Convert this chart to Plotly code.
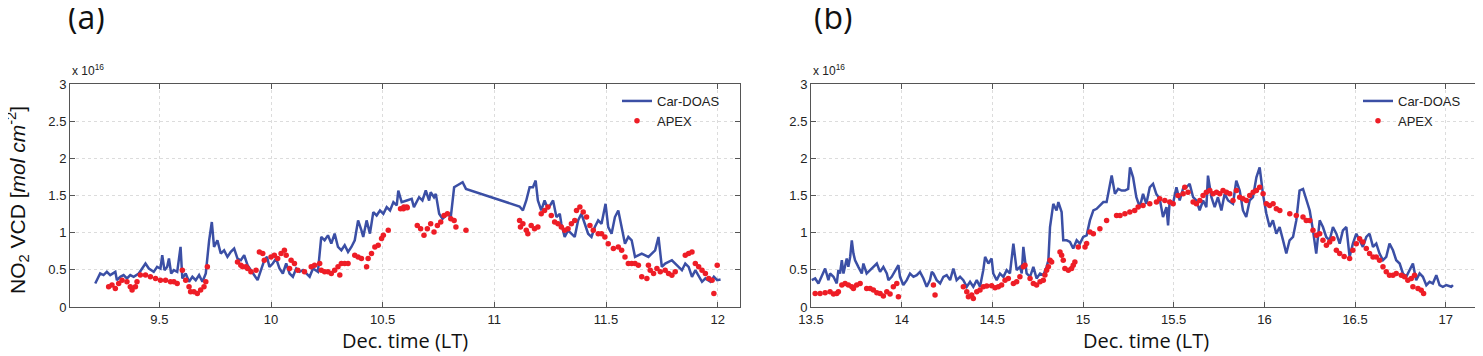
import plotly.graph_objects as go

# ---- panel (a) : Car-DOAS line (units of 1e16 molec/cm2) ----
time_a_doas = [9.213, 9.223, 9.235, 9.25, 9.265, 9.28, 9.295, 9.303, 9.31, 9.325, 9.34, 9.355, 9.37,
               9.385, 9.408, 9.423, 9.438, 9.453, 9.475, 9.49, 9.505, 9.513, 9.523, 9.535, 9.543,
               9.553, 9.565, 9.58, 9.595, 9.603, 9.618, 9.633, 9.648, 9.663, 9.678, 9.693, 9.708,
               9.723, 9.735, 9.745, 9.76, 9.775, 9.79, 9.805, 9.82, 9.835, 9.85, 9.865, 9.88, 9.895,
               9.91, 9.925, 9.94, 9.955, 9.97, 9.982, 9.993, 10.008, 10.023, 10.038, 10.053, 10.068,
               10.083, 10.098, 10.113, 10.128, 10.143, 10.158, 10.173, 10.188, 10.21, 10.225, 10.24,
               10.255, 10.27, 10.285, 10.3, 10.315, 10.33, 10.345, 10.36, 10.375, 10.39, 10.405,
               10.413, 10.428, 10.443, 10.458, 10.473, 10.488, 10.503, 10.518, 10.533, 10.548,
               10.563, 10.57, 10.585, 10.608, 10.63, 10.64, 10.663, 10.678, 10.693, 10.708, 10.715,
               10.73, 10.738, 10.753, 10.768, 10.79, 10.805, 10.82, 10.843, 10.858, 10.873, 11.113,
               11.128, 11.143, 11.158, 11.173, 11.185, 11.195, 11.21, 11.225, 11.24, 11.263, 11.278,
               11.293, 11.3, 11.315, 11.33, 11.345, 11.36, 11.375, 11.39, 11.405, 11.42, 11.435,
               11.45, 11.465, 11.48, 11.498, 11.51, 11.525, 11.54, 11.555, 11.57, 11.585, 11.6,
               11.615, 11.63, 11.66, 11.69, 11.72, 11.735, 11.75, 11.765, 11.795, 11.825, 11.84,
               11.855, 11.87, 11.885, 11.9, 11.93, 11.945, 11.968, 11.983, 11.998, 12.013]
vcd_a_doas = [0.317, 0.384, 0.451, 0.429, 0.473, 0.429, 0.451, 0.473, 0.361, 0.406, 0.429, 0.384, 0.429,
              0.406, 0.451, 0.518, 0.585, 0.518, 0.473, 0.54, 0.518, 0.696, 0.496, 0.54, 0.652,
              0.451, 0.496, 0.473, 0.808, 0.384, 0.451, 0.339, 0.406, 0.361, 0.429, 0.339, 0.451,
              0.897, 1.143, 0.808, 0.897, 0.719, 0.763, 0.674, 0.741, 0.786, 0.652, 0.629, 0.696, 0.562,
              0.496, 0.429, 0.361, 0.496, 0.629, 0.674, 0.54, 0.585, 0.652, 0.518, 0.451, 0.585,
              0.451, 0.406, 0.518, 0.473, 0.496, 0.451, 0.406, 0.518, 0.473, 0.942, 0.897,
              0.964, 0.853, 0.987, 0.808, 0.763, 0.83, 0.741, 0.808, 0.897, 1.165, 1.031,
              0.942, 1.165, 0.987, 1.277, 1.232, 1.299, 1.254, 1.344, 1.299, 1.411,
              1.366, 1.567, 1.411, 1.433, 1.455, 1.344, 1.477, 1.433, 1.567, 1.433, 1.544,
              1.477, 1.522, 1.254, 1.187, 1.254, 1.21, 1.611, 1.656, 1.678, 1.589, 1.352,
              1.299, 1.433, 1.611, 1.611, 1.701, 1.433, 1.299, 1.433, 1.321, 1.433, 1.21,
              1.254, 1.12, 0.942, 1.031, 0.986, 0.942, 1.165, 1.254, 1.12, 0.986, 0.942,
              1.076, 1.165, 1.12, 1.388, 1.076, 0.986, 1.21, 1.299, 1.076, 0.852, 0.942,
              0.897, 0.674, 0.719, 0.674, 0.763, 0.942, 0.54, 0.585, 0.629, 0.54, 0.495,
              0.585, 0.54, 0.406, 0.495, 0.339, 0.384, 0.339, 0.406, 0.361, 0.37]

# ---- panel (a) : APEX points ----
time_a_apex = [9.273, 9.288, 9.303, 9.318, 9.333, 9.355, 9.37, 9.378, 9.393, 9.4, 9.415, 9.438, 9.46,
               9.483, 9.505, 9.528, 9.55, 9.565, 9.58, 9.603, 9.618, 9.633, 9.64, 9.655, 9.67, 9.685,
               9.7, 9.708, 9.715, 9.85, 9.865, 9.873, 9.888, 9.895, 9.91, 9.933, 9.948, 9.963, 9.97,
               10.0, 10.015, 10.03, 10.045, 10.06, 10.068, 10.083, 10.09, 10.105, 10.12, 10.15,
               10.18, 10.195, 10.218, 10.225, 10.24, 10.255, 10.27, 10.285, 10.3, 10.308, 10.315,
               10.33, 10.345, 10.375, 10.39, 10.405, 10.428, 10.435, 10.45, 10.465, 10.48, 10.495,
               10.503, 10.525, 10.58, 10.593, 10.595, 10.608, 10.61, 10.655, 10.67, 10.685, 10.7,
               10.715, 10.73, 10.745, 10.76, 10.775, 10.79, 10.805, 10.82, 10.828, 10.873, 11.113,
               11.117, 11.128, 11.143, 11.15, 11.165, 11.18, 11.195, 11.21, 11.225, 11.24, 11.255,
               11.27, 11.285, 11.3, 11.315, 11.33, 11.345, 11.36, 11.368, 11.383, 11.398, 11.413,
               11.428, 11.443, 11.465, 11.48, 11.495, 11.51, 11.533, 11.555, 11.57, 11.585, 11.6,
               11.615, 11.63, 11.645, 11.66, 11.683, 11.69, 11.698, 11.713, 11.728, 11.743, 11.765,
               11.78, 11.795, 11.81, 11.855, 11.87, 11.885, 11.9, 11.915, 11.93, 11.945, 11.96,
               11.975, 11.983, 11.998]
vcd_a_apex = [0.272, 0.295, 0.25, 0.317, 0.361, 0.339, 0.272, 0.228, 0.272, 0.339, 0.429, 0.429, 0.406,
              0.384, 0.361, 0.361, 0.339, 0.339, 0.317, 0.496, 0.361, 0.272, 0.205, 0.205, 0.183, 0.228,
              0.272, 0.339, 0.54, 0.607, 0.562, 0.54, 0.54, 0.518, 0.473, 0.496, 0.741, 0.719, 0.629,
              0.674, 0.696, 0.652, 0.719, 0.763, 0.696, 0.518, 0.629, 0.585, 0.496, 0.473,
              0.54, 0.562, 0.585, 0.496, 0.473, 0.473, 0.451, 0.496, 0.54, 0.429, 0.585,
              0.585, 0.585, 0.696, 0.674, 0.652, 0.54, 0.652, 0.719, 0.808, 0.83, 0.92,
              0.964, 1.031, 1.321, 1.321, 1.344, 1.344, 1.335, 1.098, 1.053, 0.964, 1.053,
              1.12, 1.009, 1.098, 1.143, 1.232, 1.254, 1.187, 1.165, 1.076, 1.031, 1.165,
              1.076, 1.12, 1.031, 0.986, 1.098, 1.053, 1.076, 1.254, 1.299, 1.344, 1.232,
              1.143, 1.12, 1.076, 1.031, 1.053, 1.12, 1.165, 1.299, 1.344, 1.277, 1.21,
              1.098, 1.031, 0.986, 0.986, 0.942, 0.852, 0.786, 0.808, 0.763, 0.674, 0.585,
              0.585, 0.585, 0.562, 0.406, 0.384, 0.562, 0.495, 0.451, 0.518, 0.473, 0.495,
              0.451, 0.428, 0.473, 0.696, 0.719, 0.741, 0.585, 0.54, 0.495, 0.451, 0.384,
              0.361, 0.183, 0.562]

# ---- panel (b) : Car-DOAS line ----
time_b_doas = [13.504, 13.523, 13.541, 13.559, 13.578, 13.596, 13.605, 13.624, 13.642, 13.651, 13.66,
               13.67, 13.679, 13.697, 13.706, 13.716, 13.725, 13.734, 13.743, 13.761, 13.78, 13.789,
               13.807, 13.826, 13.844, 13.863, 13.881, 13.899, 13.918, 13.927, 13.945, 13.964, 13.982,
               13.991, 14.009, 14.028, 14.046, 14.065, 14.083, 14.101, 14.12, 14.138, 14.156, 14.166,
               14.175, 14.193, 14.212, 14.23, 14.248, 14.267, 14.285, 14.303, 14.322, 14.34, 14.359,
               14.377, 14.395, 14.414, 14.432, 14.45, 14.46, 14.478, 14.496, 14.505, 14.524, 14.542,
               14.561, 14.579, 14.597, 14.616, 14.634, 14.652, 14.662, 14.671, 14.689, 14.708, 14.726,
               14.744, 14.763, 14.781, 14.799, 14.809, 14.818, 14.836, 14.854, 14.864, 14.882, 14.891,
               14.91, 14.928, 14.946, 14.965, 14.983, 15.001, 15.02, 15.038, 15.057, 15.075, 15.093,
               15.112, 15.13, 15.158, 15.176, 15.194, 15.213, 15.231, 15.249, 15.259, 15.276, 15.294,
               15.313, 15.331, 15.349, 15.368, 15.386, 15.404, 15.423, 15.441, 15.46, 15.469, 15.478,
               15.496, 15.515, 15.533, 15.551, 15.57, 15.588, 15.607, 15.625, 15.643, 15.662, 15.68,
               15.689, 15.708, 15.726, 15.744, 15.763, 15.781, 15.8, 15.827, 15.845, 15.864, 15.882,
               15.9, 15.919, 15.937, 15.956, 15.974, 15.992, 16.011, 16.029, 16.047, 16.066, 16.084,
               16.103, 16.121, 16.139, 16.158, 16.176, 16.194, 16.213, 16.231, 16.25, 16.268, 16.286,
               16.305, 16.323, 16.341, 16.36, 16.378, 16.397, 16.415, 16.433, 16.452, 16.47, 16.488,
               16.507, 16.525, 16.543, 16.562, 16.58, 16.599, 16.617, 16.635, 16.654, 16.672, 16.69,
               16.709, 16.727, 16.746, 16.764, 16.782, 16.801, 16.819, 16.837, 16.856, 16.874, 16.893,
               16.911, 16.929, 16.948, 16.966, 16.984, 17.003, 17.03, 17.04]
vcd_b_doas = [0.361, 0.384, 0.317, 0.406, 0.518, 0.361, 0.451, 0.406, 0.317, 0.496, 0.451,
              0.629, 0.451, 0.652, 0.54, 0.674, 0.897, 0.719, 0.629, 0.54, 0.451, 0.585,
              0.451, 0.496, 0.54, 0.585, 0.473, 0.54, 0.451, 0.361, 0.406, 0.496, 0.562,
              0.406, 0.295, 0.361, 0.451, 0.406, 0.429, 0.473, 0.384, 0.272, 0.361, 0.473,
              0.451, 0.361, 0.317, 0.406, 0.429, 0.361, 0.518, 0.361, 0.406, 0.361, 0.272,
              0.339, 0.272, 0.361, 0.272, 0.496, 0.674, 0.585, 0.652, 0.451, 0.361, 0.451,
              0.406, 0.496, 0.451, 0.853, 0.496, 0.54, 0.451, 0.808, 0.451, 0.406, 0.54,
              0.384, 0.451, 0.429, 0.54, 0.629, 1.076, 1.388, 1.299, 1.411, 1.277, 0.897,
              0.897, 0.875, 0.786, 0.897, 0.853, 0.942, 0.964, 1.165, 1.299, 1.321, 1.366,
              1.411, 1.411, 1.768, 1.522, 1.589, 1.567, 1.567, 1.589, 1.879, 1.745, 1.477,
              1.344, 1.522, 1.388, 1.611, 1.656, 1.522, 1.455, 1.21, 1.344, 1.098, 1.433,
              1.388, 1.611, 1.433, 1.589, 1.611, 1.656, 1.477, 1.433, 1.299, 1.433, 1.344,
              1.768, 1.477, 1.344, 1.477, 1.299, 1.522, 1.433, 1.388, 1.701, 1.567, 1.299,
              1.21, 1.433, 1.477, 1.745, 1.879, 1.522, 1.254, 1.076, 1.165, 0.986, 1.076,
              0.897, 0.719, 0.897, 0.942, 1.165, 1.567, 1.589, 1.433, 1.299, 1.031, 0.719,
              1.165, 1.076, 0.942, 0.897, 1.076, 0.986, 0.852, 1.031, 1.076, 0.674, 0.852,
              0.986, 0.897, 0.808, 0.942, 0.986, 0.808, 0.852, 0.719, 0.629, 0.674, 0.852,
              0.763, 0.629, 0.585, 0.451, 0.406, 0.495, 0.585, 0.361, 0.451, 0.406, 0.294,
              0.339, 0.317, 0.428, 0.294, 0.272, 0.294, 0.272, 0.294]

# ---- panel (b) : APEX points ----
time_b_apex = [13.523, 13.55, 13.578, 13.605, 13.624, 13.642, 13.651, 13.67, 13.688, 13.706, 13.725,
               13.734, 13.752, 13.771, 13.807, 13.826, 13.844, 13.863, 13.881, 13.899, 13.918, 13.936,
               13.954, 13.973, 13.982, 14.175, 14.184, 14.34, 14.359, 14.368, 14.386, 14.395, 14.414,
               14.432, 14.45, 14.469, 14.496, 14.515, 14.533, 14.551, 14.57, 14.588, 14.616, 14.634,
               14.652, 14.671, 14.68, 14.708, 14.726, 14.744, 14.763, 14.781, 14.79, 14.799, 14.809,
               14.818, 14.827, 14.873, 14.882, 14.891, 14.9, 14.919, 14.937, 14.946, 14.955, 14.974,
               15.011, 15.02, 15.038, 15.057, 15.093, 15.13, 15.185, 15.204, 15.231, 15.258, 15.285,
               15.304, 15.331, 15.368, 15.405, 15.423, 15.451, 15.478, 15.497, 15.524, 15.552, 15.561,
               15.579, 15.607, 15.625, 15.644, 15.662, 15.68, 15.699, 15.717, 15.736, 15.754, 15.772,
               15.791, 15.809, 15.827, 15.846, 15.864, 15.882, 15.901, 15.919, 15.938, 15.956, 15.974,
               15.993, 16.011, 16.029, 16.048, 16.066, 16.085, 16.14, 16.176, 16.213, 16.231, 16.25,
               16.268, 16.287, 16.305, 16.323, 16.342, 16.36, 16.378, 16.397, 16.415, 16.44, 16.47,
               16.488, 16.507, 16.525, 16.543, 16.562, 16.58, 16.599, 16.617, 16.635, 16.654, 16.672,
               16.69, 16.709, 16.727, 16.755, 16.773, 16.791, 16.81, 16.819, 16.828, 16.847, 16.865,
               16.878]
vcd_b_apex = [0.183, 0.183, 0.192, 0.205, 0.174, 0.183, 0.205, 0.295, 0.317, 0.295, 0.272,
              0.25, 0.295, 0.317, 0.25, 0.25, 0.228, 0.192, 0.183, 0.147, 0.205, 0.174,
              0.272, 0.317, 0.138, 0.295, 0.161, 0.272, 0.205, 0.138, 0.161, 0.116, 0.205,
              0.228, 0.272, 0.281, 0.286, 0.259, 0.272, 0.295, 0.361, 0.384, 0.317, 0.339,
              0.406, 0.54, 0.562, 0.384, 0.317, 0.295, 0.339, 0.361, 0.429, 0.496, 0.54,
              0.629, 0.607, 0.741, 0.696, 0.629, 0.518, 0.496, 0.518, 0.562, 0.607, 0.808,
              0.808, 0.853, 1.009, 0.987, 1.054, 1.165, 1.232, 1.232, 1.254, 1.277, 1.299,
              1.344, 1.366, 1.388, 1.411, 1.455, 1.433, 1.411, 1.388, 1.5, 1.522, 1.612,
              1.545, 1.411, 1.388, 1.433, 1.5, 1.545, 1.567, 1.522, 1.545, 1.522, 1.567,
              1.545, 1.522, 1.433, 1.567, 1.478, 1.455, 1.433, 1.5, 1.545, 1.567, 1.612,
              1.522, 1.388, 1.366, 1.388, 1.321, 1.299, 1.254, 1.232, 1.21, 1.165, 1.165,
              1.031, 0.964, 0.987, 0.897, 0.83, 0.875, 0.919, 0.763, 0.72, 0.68, 0.652,
              0.763, 0.852, 0.919, 0.875, 0.786, 0.719, 0.674, 0.674, 0.629, 0.54, 0.473,
              0.428, 0.428, 0.451, 0.428, 0.406, 0.361, 0.384, 0.272, 0.428, 0.25, 0.227,
              0.183]

xticks_a = [9.5, 10, 10.5, 11, 11.5, 12]
xticks_b = [13.5, 14, 14.5, 15, 15.5, 16, 16.5, 17]
yticks = [0, 0.5, 1, 1.5, 2, 2.5, 3]

# the page body adds an 8 px offset, so the figure is 8 px smaller than the window
W, H, OFF = 1475, 348, 8


def fx(px):
    return (px - OFF) / W


def fy(py):
    return 1 - (py - OFF) / H


LINE = "#3B4FA5"
DOT = "#EE1D26"
TICKFONT = dict(family="Arial, Liberation Sans, sans-serif", size=13, color="#222222")
LEGFONT = dict(family="Arial, Liberation Sans, sans-serif", size=13, color="#222222")

fig = go.Figure()

fig.add_trace(go.Scatter(x=time_a_doas, y=vcd_a_doas, mode="lines", name="Car-DOAS",
                         line=dict(color=LINE, width=2.5), xaxis="x", yaxis="y", legend="legend"))
fig.add_trace(go.Scatter(x=time_a_apex, y=vcd_a_apex, mode="markers", name="APEX",
                         marker=dict(color=DOT, size=5.5), xaxis="x", yaxis="y", legend="legend"))
fig.add_trace(go.Scatter(x=time_b_doas, y=vcd_b_doas, mode="lines", name="Car-DOAS",
                         line=dict(color=LINE, width=2.5), xaxis="x2", yaxis="y2", legend="legend2"))
fig.add_trace(go.Scatter(x=time_b_apex, y=vcd_b_apex, mode="markers", name="APEX",
                         marker=dict(color=DOT, size=5.5), xaxis="x2", yaxis="y2", legend="legend2"))

axis_common = dict(showline=True, linecolor="#555555", linewidth=1, mirror="allticks",
                   ticks="inside", ticklen=5, tickcolor="#555555", tickfont=TICKFONT,
                   showgrid=True, gridcolor="#dcdcdc", griddash="dot", gridwidth=1,
                   zeroline=False, automargin=False)

y_dom = [fy(307), fy(84)]
fig.update_layout(
    width=W, height=H,
    margin=dict(l=0, r=0, t=0, b=0),
    plot_bgcolor="white", paper_bgcolor="white",
    xaxis=dict(domain=[fx(70), fx(740)], range=[9.1, 12.1], tickvals=xticks_a, anchor="y", **axis_common),
    yaxis=dict(domain=y_dom, range=[0, 3], tickvals=yticks, anchor="x", **axis_common),
    xaxis2=dict(domain=[fx(811), fx(1482)], range=[13.5, 17.2], tickvals=xticks_b, anchor="y2", **axis_common),
    yaxis2=dict(domain=y_dom, range=[0, 3], tickvals=yticks, anchor="x2", **axis_common),
    legend=dict(x=fx(617), y=fy(86), xanchor="left", yanchor="top", bgcolor="rgba(0,0,0,0)",
                font=LEGFONT, tracegroupgap=0, itemwidth=30),
    legend2=dict(x=fx(1358), y=fy(86), xanchor="left", yanchor="top", bgcolor="rgba(0,0,0,0)",
                 font=LEGFONT, tracegroupgap=0, itemwidth=30),
    showlegend=True,
)

ann = []
# panel letters
for xp, letter in ((66, "(a)"), (812, "(b)")):
    ann.append(dict(text=letter, x=fx(xp), y=fy(17), xref="paper", yref="paper",
                    xanchor="left", yanchor="middle", showarrow=False,
                    font=dict(family="Open Sans, sans-serif", size=32, color="#111111")))
# exponent labels
for xp in (70, 811):
    ann.append(dict(text="x 10<sup>16</sup>", x=fx(xp), y=fy(80), xref="paper", yref="paper",
                    xanchor="left", yanchor="bottom", showarrow=False,
                    font=dict(family="Arial, Liberation Sans, sans-serif", size=12, color="#222222")))
# x-axis titles
for xc in (405, 1146):
    ann.append(dict(text="Dec. time (LT)", x=fx(xc), y=fy(340), xref="paper", yref="paper",
                    xanchor="center", yanchor="middle", showarrow=False,
                    font=dict(family="Open Sans, sans-serif", size=20, color="#111111")))
# y-axis title
ann.append(dict(text="NO<sub>2</sub> VCD [<i>mol cm</i><sup>-2</sup>]", x=fx(17), y=fy(200),
                xref="paper", yref="paper", xanchor="center", yanchor="middle", textangle=-90,
                showarrow=False,
                font=dict(family="Arial, Liberation Sans, sans-serif", size=21, color="#111111")))
fig.update_layout(annotations=ann)

fig.write_html("out.html")
